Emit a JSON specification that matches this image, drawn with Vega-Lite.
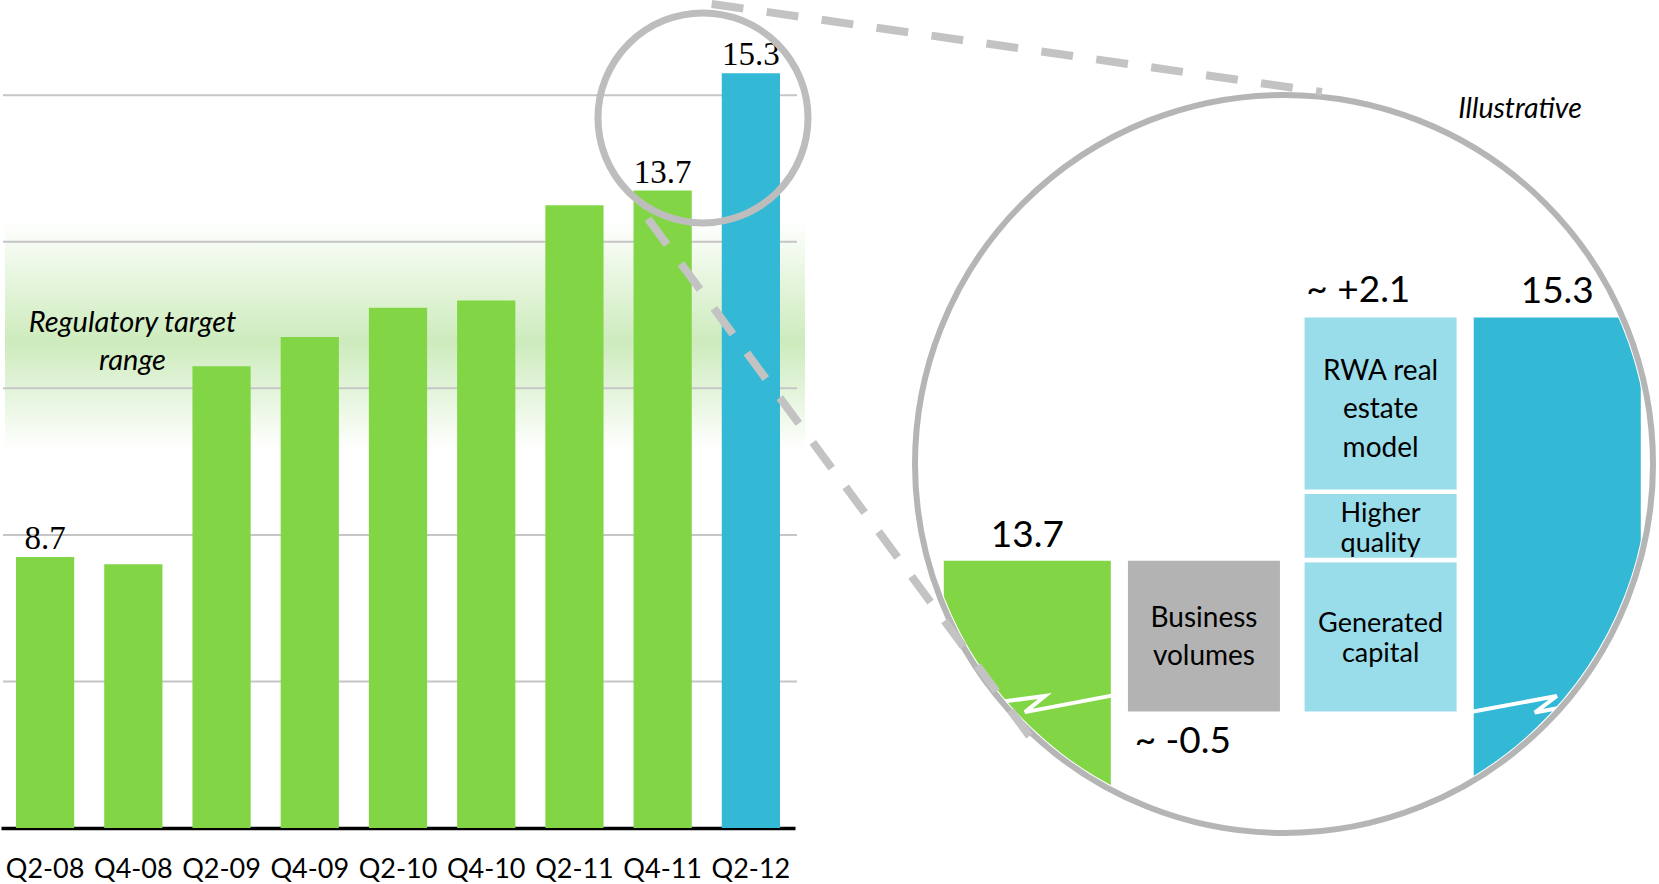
{
  "$schema": "https://vega.github.io/schema/vega-lite/v6.json",
  "width": 1659,
  "height": 828,
  "autosize": {"type": "none"},
  "padding": {"left": 0, "top": 0, "right": 0, "bottom": 56},
  "background": "white",
  "config": {"view": {"stroke": null}, "font": "Lato"},
  "datasets": {
    "capital": [
      {"period": "Q2-08", "ratio": 8.7, "kind": "history"},
      {"period": "Q4-08", "ratio": 8.6, "kind": "history"},
      {"period": "Q2-09", "ratio": 11.3, "kind": "history"},
      {"period": "Q4-09", "ratio": 11.7, "kind": "history"},
      {"period": "Q2-10", "ratio": 12.1, "kind": "history"},
      {"period": "Q4-10", "ratio": 12.2, "kind": "history"},
      {"period": "Q2-11", "ratio": 13.5, "kind": "history"},
      {"period": "Q4-11", "ratio": 13.7, "kind": "history"},
      {"period": "Q2-12", "ratio": 15.3, "kind": "latest"}
    ],
    "bridge": [
      {"step": "Q4-11", "part": "Q4-11", "kind": "level", "end": 13.7},
      {"step": "Business volumes", "part": "Business volumes", "kind": "down", "start": 12.68, "end": 13.7},
      {"step": "Drivers", "part": "Generated capital", "kind": "up", "start": 12.68, "end": 13.69},
      {"step": "Drivers", "part": "Higher quality", "kind": "up", "start": 13.69, "end": 14.14},
      {"step": "Drivers", "part": "RWA real estate model", "kind": "up", "start": 14.14, "end": 15.3},
      {"step": "Q2-12", "part": "Q2-12", "kind": "latest", "end": 15.3}
    ],
    "grid": [{"level": 7}, {"level": 9}, {"level": 11}, {"level": 13}, {"level": 15}]
  },
  "resolve": {
    "scale": {"x": "independent", "y": "independent", "color": "independent"},
    "axis": {"x": "independent", "y": "independent"}
  },
  "layer": [
    {
      "data": {"values": [{}]},
      "mark": {"type": "rect", "fill": {"gradient": "linear", "x1": 0, "y1": 0, "x2": 0, "y2": 1, "stops": [{"offset": 0, "color": "rgba(204,235,187,0)"}, {"offset": 0.53, "color": "#cdebbd"}, {"offset": 1, "color": "rgba(204,235,187,0)"}]}},
      "encoding": {
        "x": {"datum": -0.4535, "type": "quantitative", "scale": {"type": "linear", "domain": [-0.5102, 18.2993], "nice": false, "zero": false}, "axis": null},
        "x2": {"datum": 8.617},
        "y": {"datum": 13.3, "type": "quantitative", "scale": {"type": "linear", "domain": [5, 16.3], "nice": false, "zero": false}, "axis": null},
        "y2": {"datum": 10.16}
      }
    },
    {
      "data": {"name": "grid"},
      "mark": {"type": "rule", "color": "#c6c6c6", "strokeWidth": 2},
      "encoding": {
        "y": {"field": "level", "type": "quantitative", "scale": {"type": "linear", "domain": [5, 16.3], "nice": false, "zero": false}, "axis": null},
        "x": {"datum": -0.476, "type": "quantitative", "scale": {"type": "linear", "domain": [-0.5102, 18.2993], "nice": false, "zero": false}, "axis": null},
        "x2": {"datum": 8.526}
      }
    },
    {
      "data": {"name": "capital"},
      "mark": {"type": "bar"},
      "encoding": {
        "x": {"field": "period", "type": "nominal", "scale": {"type": "band", "domain": ["Q2-08", "Q4-08", "Q2-09", "Q4-09", "Q2-10", "Q4-10", "Q2-11", "Q4-11", "Q2-12"], "range": [1, 795], "paddingInner": 0.34, "paddingOuter": 0.17},
          "axis": {"title": null, "ticks": false, "tickSize": 0, "domainColor": "black", "domainWidth": 3.5, "labelFont": "Lato", "labelFontSize": 27, "labelColor": "black", "labelPadding": 28, "labelAngle": 0}},
        "y": {"field": "ratio", "type": "quantitative", "scale": {"type": "linear", "domain": [5, 16.3], "nice": false, "zero": false}, "axis": null},
        "y2": {"datum": 5},
        "color": {"field": "kind", "type": "nominal", "scale": {"domain": ["history", "latest"], "range": ["#82d646", "#33b8d6"]}, "legend": null}
      }
    },
    {
      "data": {"name": "capital"},
      "transform": [{"filter": {"field": "period", "oneOf": ["Q2-08", "Q4-11", "Q2-12"]}}],
      "mark": {"type": "text", "font": "Liberation Serif", "fontSize": 33, "baseline": "alphabetic", "dy": -8, "color": "black"},
      "encoding": {
        "x": {"field": "period", "type": "nominal", "scale": {"type": "band", "domain": ["Q2-08", "Q4-08", "Q2-09", "Q4-09", "Q2-10", "Q4-10", "Q2-11", "Q4-11", "Q2-12"], "range": [1, 795], "paddingInner": 0.34, "paddingOuter": 0.17}, "axis": null},
        "y": {"field": "ratio", "type": "quantitative", "scale": {"type": "linear", "domain": [5, 16.3], "nice": false, "zero": false}, "axis": null},
        "text": {"field": "ratio", "type": "quantitative", "format": ".1f"}
      }
    },
    {
      "data": {"name": "bridge"},
      "transform": [{"filter": {"field": "kind", "oneOf": ["level", "latest"]}}],
      "mark": {"type": "bar", "width": {"band": 0.971}, "stroke": "white", "strokeWidth": 4.5},
      "encoding": {
        "x": {"field": "step", "type": "nominal", "scale": {"type": "band", "domain": ["Q4-11", "Business volumes", "Drivers", "Q2-12"], "range": [938.98, 1645.58], "paddingInner": 0, "paddingOuter": 0}, "axis": null},
        "y": {"field": "end", "type": "quantitative", "scale": {"type": "linear", "domain": [11.928, 17.373], "nice": false, "zero": false}, "axis": null},
        "y2": {"datum": 12.18},
        "color": {"field": "kind", "type": "nominal", "scale": {"domain": ["level", "latest"], "range": ["#82d646", "#33b8d6"]}, "legend": null}
      }
    },
    {
      "data": {"name": "bridge"},
      "transform": [{"filter": {"field": "kind", "oneOf": ["down", "up"]}}],
      "mark": {"type": "bar", "width": {"band": 0.886}, "stroke": "white", "strokeWidth": 4.5},
      "encoding": {
        "x": {"field": "step", "type": "nominal", "scale": {"type": "band", "domain": ["Q4-11", "Business volumes", "Drivers", "Q2-12"], "range": [938.98, 1645.58], "paddingInner": 0, "paddingOuter": 0}, "axis": null},
        "y": {"field": "end", "type": "quantitative", "scale": {"type": "linear", "domain": [11.928, 17.373], "nice": false, "zero": false}, "axis": null},
        "y2": {"field": "start"},
        "color": {"field": "kind", "type": "nominal", "scale": {"domain": ["down", "up"], "range": ["#b3b3b3", "#9addea"]}, "legend": null}
      }
    },
    {
      "data": {"name": "bridge"},
      "transform": [{"filter": {"field": "kind", "oneOf": ["level", "latest"]}}],
      "mark": {"type": "text", "fontSize": 37, "baseline": "alphabetic", "dy": -12, "color": "black"},
      "encoding": {
        "x": {"field": "step", "type": "nominal", "scale": {"type": "band", "domain": ["Q4-11", "Business volumes", "Drivers", "Q2-12"], "range": [938.98, 1645.58], "paddingInner": 0, "paddingOuter": 0}, "axis": null},
        "y": {"field": "end", "type": "quantitative", "scale": {"type": "linear", "domain": [11.928, 17.373], "nice": false, "zero": false}, "axis": null},
        "text": {"field": "end", "type": "quantitative", "format": ".1f"}
      }
    },
    {
      "data": {"values": [{}]},
      "mark": {"type": "text", "text": "~ +2.1", "align": "left", "baseline": "alphabetic", "fontSize": 37, "dx": 14, "dy": -13.5, "color": "black"},
      "encoding": {
        "x": {"datum": "Drivers", "type": "nominal", "bandPosition": 0, "scale": {"type": "band", "domain": ["Q4-11", "Business volumes", "Drivers", "Q2-12"], "range": [938.98, 1645.58], "paddingInner": 0, "paddingOuter": 0}, "axis": null},
        "y": {"datum": 15.3, "type": "quantitative", "scale": {"type": "linear", "domain": [11.928, 17.373], "nice": false, "zero": false}, "axis": null}
      }
    },
    {
      "data": {"values": [{}]},
      "mark": {"type": "text", "text": "~ -0.5", "align": "left", "baseline": "alphabetic", "fontSize": 37, "dx": 19, "color": "black"},
      "encoding": {
        "x": {"datum": "Business volumes", "type": "nominal", "bandPosition": 0, "scale": {"type": "band", "domain": ["Q4-11", "Business volumes", "Drivers", "Q2-12"], "range": [938.98, 1645.58], "paddingInner": 0, "paddingOuter": 0}, "axis": null},
        "y": {"datum": 12.419, "type": "quantitative", "scale": {"type": "linear", "domain": [11.928, 17.373], "nice": false, "zero": false}, "axis": null}
      }
    },
    {
      "data": {"values": [{}]},
      "mark": {"type": "text", "text": ["Business", "volumes"], "lineHeight": 38.3, "align": "center", "baseline": "alphabetic", "fontSize": 28, "color": "black"},
      "encoding": {
        "x": {"datum": "Business volumes", "type": "nominal", "scale": {"type": "band", "domain": ["Q4-11", "Business volumes", "Drivers", "Q2-12"], "range": [938.98, 1645.58], "paddingInner": 0, "paddingOuter": 0}, "axis": null},
        "y": {"datum": 13.25, "type": "quantitative", "scale": {"type": "linear", "domain": [11.928, 17.373], "nice": false, "zero": false}, "axis": null}
      }
    },
    {
      "data": {"values": [{}]},
      "mark": {"type": "text", "text": ["RWA real", "estate", "model"], "lineHeight": 38.3, "align": "center", "baseline": "alphabetic", "fontSize": 28, "color": "black"},
      "encoding": {
        "x": {"datum": "Drivers", "type": "nominal", "scale": {"type": "band", "domain": ["Q4-11", "Business volumes", "Drivers", "Q2-12"], "range": [938.98, 1645.58], "paddingInner": 0, "paddingOuter": 0}, "axis": null},
        "y": {"datum": 14.874, "type": "quantitative", "scale": {"type": "linear", "domain": [11.928, 17.373], "nice": false, "zero": false}, "axis": null}
      }
    },
    {
      "data": {"values": [{}]},
      "mark": {"type": "text", "text": ["Higher", "quality"], "lineHeight": 30, "align": "center", "baseline": "alphabetic", "fontSize": 27, "color": "black"},
      "encoding": {
        "x": {"datum": "Drivers", "type": "nominal", "scale": {"type": "band", "domain": ["Q4-11", "Business volumes", "Drivers", "Q2-12"], "range": [938.98, 1645.58], "paddingInner": 0, "paddingOuter": 0}, "axis": null},
        "y": {"datum": 13.942, "type": "quantitative", "scale": {"type": "linear", "domain": [11.928, 17.373], "nice": false, "zero": false}, "axis": null}
      }
    },
    {
      "data": {"values": [{}]},
      "mark": {"type": "text", "text": ["Generated", "capital"], "lineHeight": 30.5, "align": "center", "baseline": "alphabetic", "fontSize": 27, "color": "black"},
      "encoding": {
        "x": {"datum": "Drivers", "type": "nominal", "scale": {"type": "band", "domain": ["Q4-11", "Business volumes", "Drivers", "Q2-12"], "range": [938.98, 1645.58], "paddingInner": 0, "paddingOuter": 0}, "axis": null},
        "y": {"datum": 13.219, "type": "quantitative", "scale": {"type": "linear", "domain": [11.928, 17.373], "nice": false, "zero": false}, "axis": null}
      }
    },
    {
      "data": {"values": [{}]},
      "mark": {"type": "point", "shape": "M-1,-0.04L-0.26,-0.14L-0.63,0.16L1,-0.15", "filled": false, "stroke": "white", "strokeWidth": 4, "size": 11664, "opacity": 1, "strokeJoin": "miter"},
      "encoding": {
        "x": {"datum": 11.497, "type": "quantitative", "scale": {"type": "linear", "domain": [-0.5102, 18.2993], "nice": false, "zero": false}, "axis": null},
        "y": {"datum": 6.699, "type": "quantitative", "scale": {"type": "linear", "domain": [5, 16.3], "nice": false, "zero": false}, "axis": null}
      }
    },
    {
      "data": {"values": [{}]},
      "mark": {"type": "point", "shape": "M-1,0.16L0.66,-0.15L0.25,0.16L1,0.02", "filled": false, "stroke": "white", "strokeWidth": 4, "size": 11449, "opacity": 1, "strokeJoin": "miter"},
      "encoding": {
        "x": {"datum": 16.74, "type": "quantitative", "scale": {"type": "linear", "domain": [-0.5102, 18.2993], "nice": false, "zero": false}, "axis": null},
        "y": {"datum": 6.692, "type": "quantitative", "scale": {"type": "linear", "domain": [5, 16.3], "nice": false, "zero": false}, "axis": null}
      }
    },
    {
      "data": {"values": [{}]},
      "mark": {"type": "arc", "theta": 0.96, "theta2": 4.45, "innerRadius": 365, "outerRadius": 515, "fill": "white", "stroke": null},
      "encoding": {
        "x": {"datum": 14.0476, "type": "quantitative", "scale": {"type": "linear", "domain": [-0.5102, 18.2993], "nice": false, "zero": false}, "axis": null},
        "y": {"datum": 9.968, "type": "quantitative", "scale": {"type": "linear", "domain": [5, 16.3], "nice": false, "zero": false}, "axis": null}
      }
    },
    {
      "data": {"values": [{}]},
      "mark": {"type": "point", "shape": "circle", "filled": false, "color": "#b5b5b5", "strokeWidth": 6, "size": 544644, "opacity": 1},
      "encoding": {
        "x": {"datum": 14.0476, "type": "quantitative", "scale": {"type": "linear", "domain": [-0.5102, 18.2993], "nice": false, "zero": false}, "axis": null},
        "y": {"datum": 9.968, "type": "quantitative", "scale": {"type": "linear", "domain": [5, 16.3], "nice": false, "zero": false}, "axis": null}
      }
    },
    {
      "data": {"values": [{}]},
      "mark": {"type": "point", "shape": "circle", "filled": false, "color": "#bdbdbd", "strokeWidth": 7, "size": 44100, "opacity": 1},
      "encoding": {
        "x": {"datum": 7.46, "type": "quantitative", "scale": {"type": "linear", "domain": [-0.5102, 18.2993], "nice": false, "zero": false}, "axis": null},
        "y": {"datum": 14.69, "type": "quantitative", "scale": {"type": "linear", "domain": [5, 16.3], "nice": false, "zero": false}, "axis": null}
      }
    },
    {
      "data": {"values": [{}]},
      "mark": {"type": "rule", "color": "#c3c3c3", "strokeWidth": 8, "strokeDash": [32, 23.5], "strokeCap": "butt"},
      "encoding": {
        "x": {"datum": 7.559, "type": "quantitative", "scale": {"type": "linear", "domain": [-0.5102, 18.2993], "nice": false, "zero": false}, "axis": null},
        "y": {"datum": 16.246, "type": "quantitative", "scale": {"type": "linear", "domain": [5, 16.3], "nice": false, "zero": false}, "axis": null},
        "x2": {"datum": 14.478},
        "y2": {"datum": 15.045}
      }
    },
    {
      "data": {"values": [{}]},
      "mark": {"type": "rule", "color": "#c3c3c3", "strokeWidth": 8, "strokeDash": [32, 23.5], "strokeCap": "butt"},
      "encoding": {
        "x": {"datum": 6.837, "type": "quantitative", "scale": {"type": "linear", "domain": [-0.5102, 18.2993], "nice": false, "zero": false}, "axis": null},
        "y": {"datum": 13.312, "type": "quantitative", "scale": {"type": "linear", "domain": [5, 16.3], "nice": false, "zero": false}, "axis": null},
        "x2": {"datum": 11.236},
        "y2": {"datum": 6.133}
      }
    },
    {
      "data": {"values": [{}]},
      "mark": {"type": "text", "text": ["Regulatory target", "range"], "lineHeight": 38, "align": "center", "baseline": "alphabetic", "fontSize": 29, "fontStyle": "italic", "color": "black"},
      "encoding": {
        "x": {"datum": 0.992, "type": "quantitative", "scale": {"type": "linear", "domain": [-0.5102, 18.2993], "nice": false, "zero": false}, "axis": null},
        "y": {"datum": 11.77, "type": "quantitative", "scale": {"type": "linear", "domain": [5, 16.3], "nice": false, "zero": false}, "axis": null}
      }
    },
    {
      "data": {"values": [{}]},
      "mark": {"type": "text", "text": "Illustrative", "align": "center", "baseline": "alphabetic", "fontSize": 28.5, "fontStyle": "italic", "color": "black"},
      "encoding": {
        "x": {"datum": 16.723, "type": "quantitative", "scale": {"type": "linear", "domain": [-0.5102, 18.2993], "nice": false, "zero": false}, "axis": null},
        "y": {"datum": 14.69, "type": "quantitative", "scale": {"type": "linear", "domain": [5, 16.3], "nice": false, "zero": false}, "axis": null}
      }
    }
  ]
}
